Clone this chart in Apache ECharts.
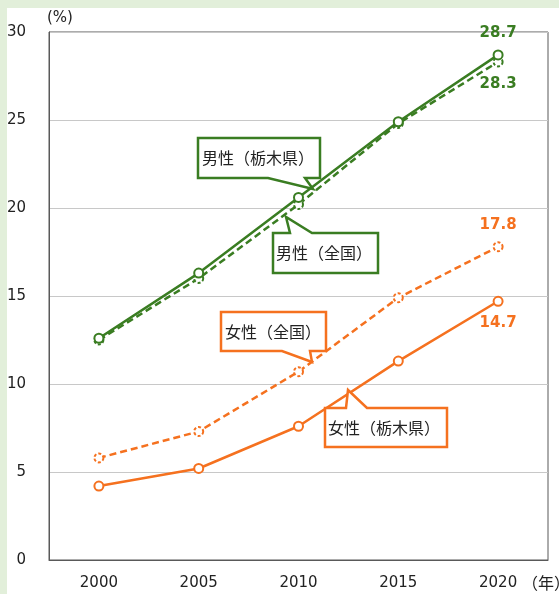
<!DOCTYPE html>
<html><head><meta charset="utf-8">
<script src="https://cdn.jsdelivr.net/npm/echarts@6/dist/echarts.min.js"></script>
<style>
html,body{margin:0;padding:0;background:#e2efda;}
#bg{position:absolute;left:7px;top:8px;width:552px;height:586px;background:#fff;}
#c{position:absolute;left:0;top:0;width:559px;height:594px;}
</style></head>
<body>
<div id="bg"></div>
<div id="c"></div>
<script>
var years = ['2000','2005','2010','2015','2020'];
var maleTochigi = [12.6, 16.3, 20.6, 24.9, 28.7];
var maleNational = [12.5, 16.0, 20.2, 24.8, 28.3];
var femaleNational = [5.8, 7.3, 10.7, 14.9, 17.8];
var femaleTochigi = [4.2, 5.2, 7.6, 11.3, 14.7];
var yTicks = [0, 5, 10, 15, 20, 25, 30];
var calloutLabels = ['男性（栃木県）','男性（全国）','女性（全国）','女性（栃木県）'];

var GREEN = '#3a7d22', ORANGE = '#f5711f';
var NUM_FONT = 'DejaVu Sans';
var JP_FONT = '"Noto Sans CJK JP"';

function mk(name, vals, color, dashed, labelPos) {
  return {
    name: name, type: 'line',
    data: vals.map(function (v, i) {
      var d = { value: v };
      if (i === vals.length - 1) {
        d.label = { show: true, position: labelPos, distance: 9,
          color: color, fontFamily: NUM_FONT, fontWeight: 'bold', fontSize: 15,
          formatter: function (p) { return p.value.toFixed(1); } };
      }
      return d;
    }),
    symbol: 'circle', symbolSize: 9,
    itemStyle: { color: '#fff', borderColor: color, borderWidth: 2, borderType: dashed ? [3, 2] : 'solid' },
    lineStyle: { color: color, width: 2.5, type: dashed ? [7, 4] : 'solid' },
    emphasis: { disabled: true },
    z: dashed ? 2 : 3
  };
}

function callout(points, color, text, tx, ty) {
  return [
    { type: 'polygon', shape: { points: points }, z: 10,
      style: { fill: '#fff', stroke: color, lineWidth: 2.5 } },
    { type: 'text', x: tx, y: ty, z: 11,
      style: { text: text, fill: '#222', font: '16px ' + JP_FONT, textVerticalAlign: 'middle' } }
  ];
}

var chart = echarts.init(document.getElementById('c'), null, { renderer: 'canvas' });
var graphics = [].concat(
  callout([[198,138],[320,138],[320,178],[305,178],[313,189],[268,178],[198,178]], GREEN, calloutLabels[0], 202, 158),
  callout([[273,233],[290,233],[286,217],[312,233],[378,233],[378,273],[273,273]], GREEN, calloutLabels[1], 276, 253),
  callout([[221,312],[326,312],[326,351],[310,351],[312,362],[282,351],[221,351]], ORANGE, calloutLabels[2], 225, 332),
  callout([[325,408],[346,408],[348,390],[367,408],[447,408],[447,447],[325,447]], ORANGE, calloutLabels[3], 328, 428),
  [
    { type: 'text', x: 47, y: 18, style: { text: '(%)', fill: '#222', font: '15px ' + NUM_FONT, textVerticalAlign: 'middle' } },
    { type: 'text', x: 522, y: 583, style: { text: '（年）', fill: '#222', font: '16px ' + JP_FONT, textVerticalAlign: 'middle' } }
  ]
);

chart.setOption({
  animation: false,
  backgroundColor: 'transparent',
  grid: { left: 49, right: 11, top: 32, bottom: 34, show: true, borderColor: '#595959', borderWidth: 1, backgroundColor: 'transparent' },
  xAxis: {
    type: 'category', data: years, boundaryGap: true,
    axisLine: { lineStyle: { color: '#595959', width: 1 } },
    axisTick: { show: false },
    axisLabel: { color: '#222', fontSize: 15, fontFamily: NUM_FONT, margin: 16 }
  },
  yAxis: {
    type: 'value', min: yTicks[0], max: yTicks[yTicks.length - 1], interval: 5,
    axisLine: { show: true, lineStyle: { color: '#595959' } },
    axisTick: { show: false },
    splitLine: { lineStyle: { color: '#c8c8c8', width: 1 } },
    axisLabel: { color: '#222', fontSize: 15, fontFamily: NUM_FONT, margin: 23 }
  },
  series: [
    mk('男性（全国）', maleNational, GREEN, true, 'bottom'),
    mk('男性（栃木県）', maleTochigi, GREEN, false, 'top'),
    mk('女性（全国）', femaleNational, ORANGE, true, 'top'),
    mk('女性（栃木県）', femaleTochigi, ORANGE, false, 'bottom')
  ],
  graphic: graphics
});
</script>
</body></html>
